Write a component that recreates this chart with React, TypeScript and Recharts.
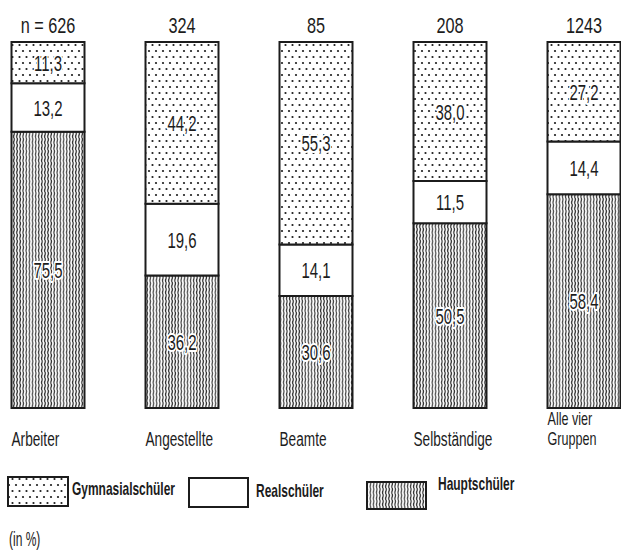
import React from 'react';
import { BarChart, Bar, XAxis, YAxis, LabelList, Legend } from 'recharts';

const categories = ['Arbeiter', 'Angestellte', 'Beamte', 'Selbständige', 'Alle vier\nGruppen'];
const sampleSizes = ['n = 626', '324', '85', '208', '1243'];
const hauptschueler = [75.5, 36.2, 30.6, 50.5, 58.4];
const realschueler = [13.2, 19.6, 14.1, 11.5, 14.4];
const gymnasialschueler = [11.3, 44.2, 55.3, 38.0, 27.2];
const seriesNames = { gym: 'Gymnasialschüler', real: 'Realschüler', haupt: 'Hauptschüler' };
const unitNote = '(in %)';

const data = categories.map((c, i) => ({
  name: c,
  n: sampleSizes[i],
  haupt: hauptschueler[i],
  real: realschueler[i],
  gym: gymnasialschueler[i],
}));

const FONT = "'Liberation Sans', Arial, sans-serif";
const INK = '#1c1c1c';
const fills = { gym: 'url(#dots)', real: '#ffffff', haupt: 'url(#waves)' };
const fmt = (v: number) => v.toFixed(1).replace('.', ',');

const CondText = ({ x, y, sx = 0.7, anchor = 'start', size = 18, weight = 400, halo = false, children }: any) => (
  <text
    transform={`translate(${x},${y}) scale(${sx},1)`}
    textAnchor={anchor}
    fontSize={size}
    fontWeight={weight}
    fontFamily={FONT}
    fill={INK}
    stroke={halo ? '#ffffff' : 'none'}
    strokeWidth={halo ? 4 : 0}
    strokeLinejoin="round"
    paintOrder="stroke"
  >
    {children}
  </text>
);

const SegLabel = (props: any) => {
  const { x, y, width, height, value } = props;
  const cx = Number(x) + Number(width) / 2;
  const cy = Number(y) + Number(height) / 2;
  return (
    <CondText x={cx} y={cy + 8} sx={0.68} anchor="middle" size={22} halo>
      {fmt(Number(value))}
    </CondText>
  );
};

const TopLabel = (props: any) => {
  const { x, y, width, value } = props;
  return (
    <CondText x={Number(x) + Number(width) / 2} y={Number(y) - 9} sx={0.74} anchor="middle" size={22}>
      {value}
    </CondText>
  );
};

const CategoryTick = (props: any) => {
  const { x, y, payload } = props;
  const lines = String(payload.value).split('\n');
  const left = x - 36;
  if (lines.length === 1) {
    return <CondText x={left} y={y + 38} sx={0.65} size={21}>{lines[0]}</CondText>;
  }
  return (
    <g>
      <CondText x={left} y={y + 17} sx={0.7} size={18}>{lines[0]}</CondText>
      <CondText x={left} y={y + 37} sx={0.7} size={18}>{lines[1]}</CondText>
    </g>
  );
};

const legendOrder = ['gym', 'real', 'haupt'];
const legendLayout: any = {
  gym: { boxX: 8, boxY: 7, boxW: 60, boxH: 29, textX: 72, textY: 25 },
  real: { boxX: 189, boxY: 8, boxW: 59, boxH: 29, textX: 256, textY: 27 },
  haupt: { boxX: 367, boxY: 12, boxW: 59, boxH: 27, textX: 438, textY: 20 },
};

const renderLegend = (props: any) => {
  const payload = props.payload || [];
  return (
    <svg width={621} height={82} style={{ display: 'block' }}>
      {legendOrder.map((k) => {
        const entry = payload.find((p: any) => p.dataKey === k);
        const name = entry ? entry.value : (seriesNames as any)[k];
        const L = legendLayout[k];
        return (
          <g key={k}>
            <rect x={L.boxX} y={L.boxY} width={L.boxW} height={L.boxH} fill={(fills as any)[k]} stroke={INK} strokeWidth={2} />
            <CondText x={L.textX} y={L.textY} sx={0.665} size={18} weight={700}>{name}</CondText>
          </g>
        );
      })}
      <CondText x={9} y={76} sx={0.6} size={20}>{unitNote}</CondText>
    </svg>
  );
};

export default function App() {
  return (
    <div style={{ position: 'absolute', left: 0, top: 0, background: '#fff' }}>
      <BarChart
        width={621}
        height={552}
        data={data}
        margin={{ top: 42, right: -29.5, bottom: 104, left: -19.5 }}
        barSize={73}
      >
        <defs>
          <pattern id="waves" patternUnits="userSpaceOnUse" width={3.1} height={6}>
            <rect width={3.1} height={6} fill="#ffffff" />
            <path d="M1.55 0 C 2.2 1.5, 2.2 1.5, 1.55 3 C 0.9 4.5, 0.9 4.5, 1.55 6" fill="none" stroke="#2e2e2e" strokeWidth={1.2} />
          </pattern>
          <pattern id="dots" patternUnits="userSpaceOnUse" width={7} height={12}>
            <rect width={7} height={12} fill="#ffffff" />
            <circle cx={2} cy={3} r={1.1} fill="#1c1c1c" />
            <circle cx={5.5} cy={9} r={1.1} fill="#1c1c1c" />
          </pattern>
        </defs>
        <XAxis
          dataKey="name"
          axisLine={false}
          tickLine={false}
          tickSize={0}
          tickMargin={0}
          height={40}
          interval={0}
          tick={<CategoryTick />}
        />
        <YAxis hide domain={[0, 100]} />
        <Legend
          layout="horizontal"
          verticalAlign="middle"
          align="center"
          content={renderLegend}
          wrapperStyle={{ left: 0, top: 470, width: 621, height: 82 }}
        />
        <Bar dataKey="haupt" name={seriesNames.haupt} stackId="s" fill={fills.haupt} stroke={INK} strokeWidth={2} isAnimationActive={false}>
          <LabelList dataKey="haupt" content={<SegLabel />} />
        </Bar>
        <Bar dataKey="real" name={seriesNames.real} stackId="s" fill={fills.real} stroke={INK} strokeWidth={2} isAnimationActive={false}>
          <LabelList dataKey="real" content={<SegLabel />} />
        </Bar>
        <Bar dataKey="gym" name={seriesNames.gym} stackId="s" fill={fills.gym} stroke={INK} strokeWidth={2} isAnimationActive={false}>
          <LabelList dataKey="gym" content={<SegLabel />} />
          <LabelList dataKey="n" content={<TopLabel />} />
        </Bar>
      </BarChart>
    </div>
  );
}
